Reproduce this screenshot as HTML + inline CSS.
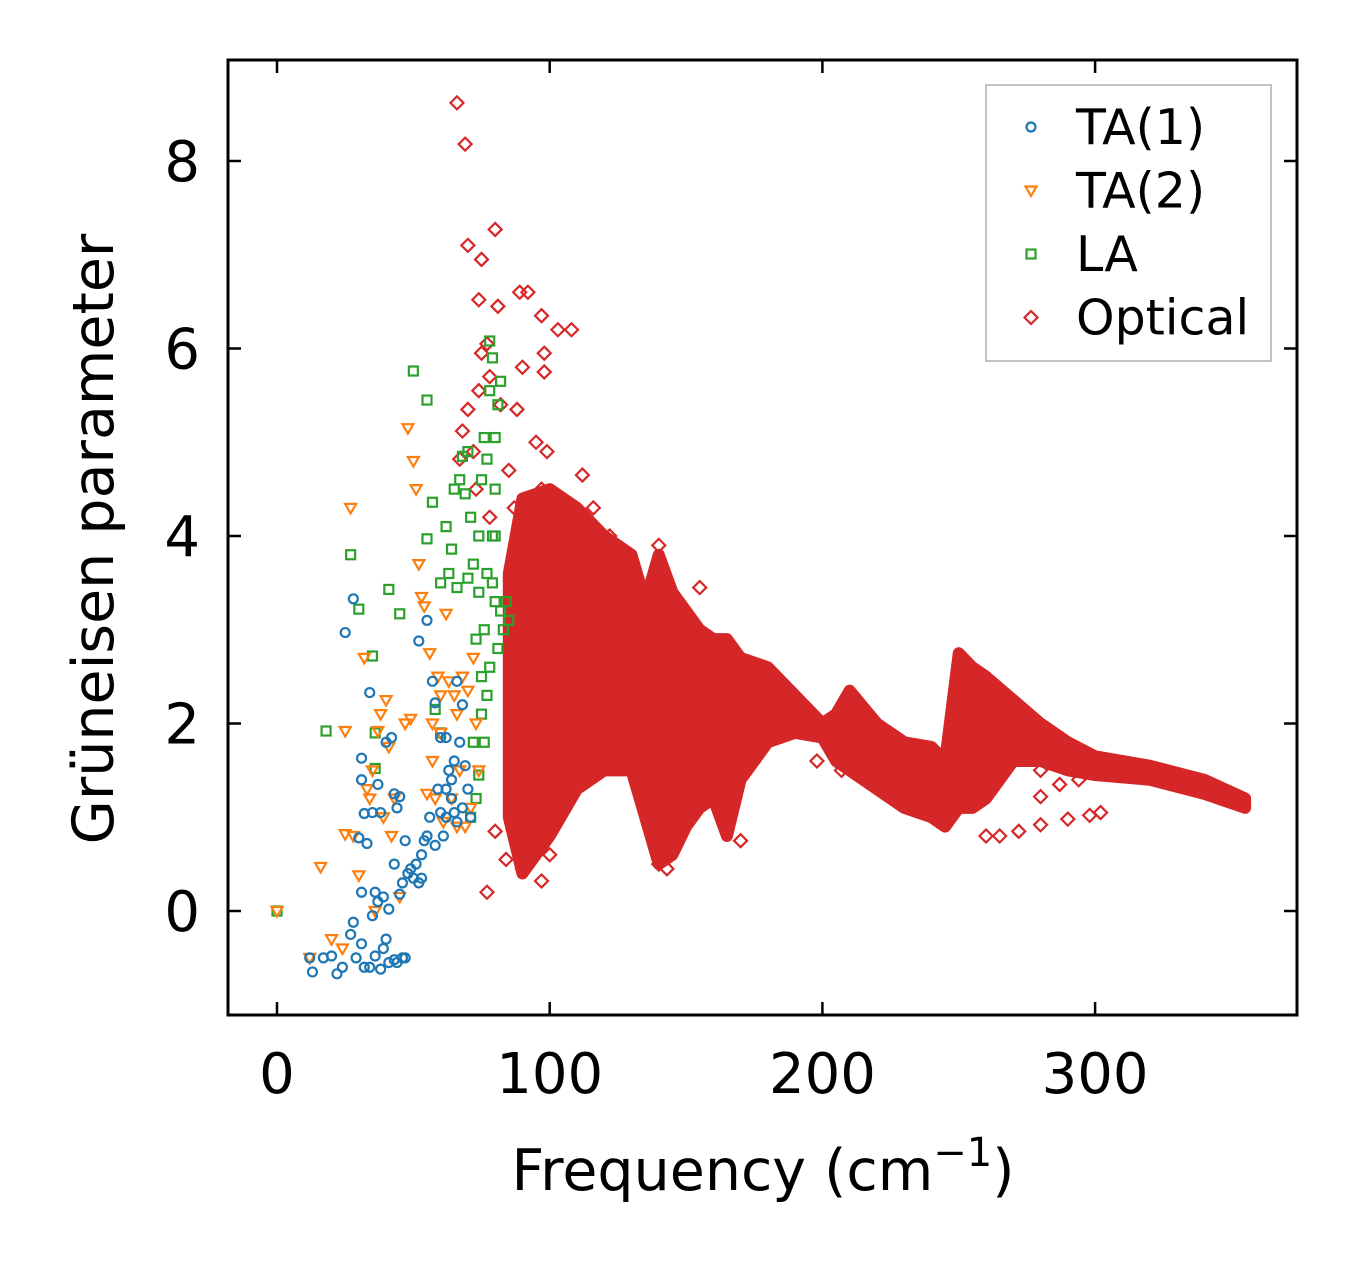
<!DOCTYPE html>
<html><head><meta charset="utf-8"><style>
html,body{margin:0;padding:0;background:#fff;}
svg{display:block;font-family:"DejaVu Sans","Liberation Sans",sans-serif;}
</style></head><body>
<svg id="chart" width="1357" height="1264" viewBox="0 0 1357 1264">
<defs><clipPath id="clip"><rect x="228" y="60" width="1069" height="955"/></clipPath></defs>
<g id="marks" clip-path="url(#clip)"></g>
<g id="axes"></g>
</svg>
<script>
const xTicks=[0,100,200,300];
const yTicks=[0,2,4,6,8];
const bandFreq=[85,90,100,110,120,130,135,140,145,150,155,160,165,170,180,190,200,205,210,220,230,240,245,250,255,260,270,280,290,300,320,340,355];
const bandLow=[1.0,0.4,0.8,1.3,1.5,1.5,1.0,0.5,0.6,0.9,1.1,1.2,0.8,1.4,1.8,1.9,1.85,1.6,1.5,1.3,1.1,1.0,0.9,1.1,1.1,1.2,1.6,1.6,1.5,1.45,1.4,1.25,1.1];
const bandHigh=[3.6,4.4,4.5,4.3,4.0,3.8,3.3,3.8,3.4,3.2,3.0,2.9,2.9,2.7,2.6,2.3,2.0,2.1,2.35,2.0,1.8,1.75,1.6,2.75,2.6,2.5,2.25,2.0,1.8,1.65,1.55,1.4,1.2];
const opticalX=[66,69,70,80,75,74,81,89,92,97,103,108,77,75,78,98,90,98,74,82,88,70,68,72,95,99,112,67,85,73,97,78,87,84,77,97,100,90,80,140,143,170,198,207,260,265,272,280,290,298,302,280,287,294,280,262,155,140,116,122];
const opticalY=[8.62,8.18,7.1,7.27,6.95,6.52,6.45,6.6,6.6,6.35,6.2,6.2,6.05,5.95,5.7,5.95,5.8,5.75,5.55,5.4,5.35,5.35,5.12,4.9,5.0,4.9,4.65,4.82,4.7,4.5,4.5,4.2,4.3,0.55,0.2,0.32,0.6,0.45,0.85,0.5,0.45,0.75,1.6,1.5,0.8,0.8,0.85,0.92,0.98,1.02,1.05,1.22,1.35,1.4,1.5,1.48,3.45,3.9,4.3,4.0];
const ta1X=[12,13,17,20,22,24,27,28,29,31,32,34,35,36,38,39,40,41,43,44,46,47,25,28,34,31,31,32,33,30,31,35,37,38,40,42,43,44,45,39,36,37,41,43,45,46,47,48,50,52,53,54,55,56,57,58,59,60,60,61,62,63,64,65,66,67,68,69,70,71,52,55,58,62,65,66,68,64,62,49,51,53];
const ta1Y=[-0.5,-0.65,-0.5,-0.48,-0.67,-0.6,-0.25,-0.12,-0.5,-0.35,-0.6,-0.6,-0.05,-0.48,-0.62,-0.4,-0.3,-0.55,-0.52,-0.55,-0.5,-0.5,2.97,3.33,2.33,1.63,1.4,1.04,0.72,0.78,0.2,1.05,1.35,1.05,1.8,1.85,1.25,1.1,1.22,0.15,0.2,0.1,0.02,0.5,0.18,0.3,0.75,0.4,0.35,0.3,0.6,0.75,0.8,1.0,2.45,2.22,1.3,1.05,1.85,0.8,1.0,1.5,1.2,1.05,2.45,1.8,2.2,1.55,1.3,1.0,2.88,3.1,0.7,1.85,1.6,0.95,1.1,1.4,1.3,0.45,0.5,0.35];
const ta2X=[0,12,16,20,24,25,25,27,28,30,32,33,34,35,36,37,38,39,40,41,42,43,45,47,48,49,50,51,53,54,55,56,57,58,60,62,63,64,65,66,67,68,69,70,71,72,73,74,61,66,57,59,52,60];
const ta2Y=[0,-0.5,0.47,-0.3,-0.4,0.82,1.92,4.3,0.8,0.38,2.7,1.3,1.2,1.5,0.0,1.92,2.1,1.0,2.25,1.75,0.8,1.2,0.15,2.0,5.15,2.05,4.8,4.5,3.35,3.25,1.25,2.75,1.6,1.2,1.9,3.17,2.45,1.2,2.3,2.1,1.5,2.5,0.9,2.35,1.1,2.7,2.0,1.5,0.95,0.9,2.0,2.5,3.7,2.3];
const laX=[0,18,27,30,35,36,36,41,45,50,55,55,57,58,60,60,62,63,64,65,66,67,68,69,70,70,71,72,73,74,75,75,76,76,77,77,78,78,79,79,80,80,81,81,82,82,83,84,85,72,74,76,73,75,78,80,77,71,74,79,80];
const laY=[0,1.92,3.8,3.22,2.72,1.9,1.52,3.43,3.17,5.76,5.45,3.97,4.36,2.15,1.9,3.5,4.1,3.6,3.86,4.5,3.45,4.6,4.85,4.45,3.55,4.9,4.2,3.7,2.9,3.4,2.5,4.6,5.05,3.0,4.82,2.3,5.55,6.08,5.9,3.5,4.5,5.05,5.4,2.8,5.65,3.2,3.0,3.3,3.1,1.8,1.45,1.8,1.2,2.1,2.6,3.3,3.6,1.0,4.0,4.0,4.0];

const NS='http://www.w3.org/2000/svg';
const X0=228,X1=1297,Y0=60,Y1=1015;
const sx=v=>277+v*2.727;
const sy=v=>911-v*93.75;
const marks=document.getElementById('marks');
const axes=document.getElementById('axes');
function mk(tag,attrs,parent){const e=document.createElementNS(NS,tag);for(const k in attrs)e.setAttribute(k,attrs[k]);parent.appendChild(e);return e;}
const C={b:'#1f77b4',o:'#ff7f0e',g:'#2ca02c',r:'#d62728'};
function marker(kind,cx,cy,parent,color){
  let e;
  if(kind==='circle'){e=mk('circle',{cx:cx,cy:cy,r:4.5,fill:'none',stroke:color,'stroke-width':2.2},parent);}
  else if(kind==='tri'){e=mk('polygon',{points:`${cx-5.5},${cy-4} ${cx+5.5},${cy-4} ${cx},${cy+5.5}`,fill:'none',stroke:color,'stroke-width':2.2},parent);}
  else if(kind==='sq'){e=mk('rect',{x:cx-4.5,y:cy-4.5,width:9,height:9,fill:'none',stroke:color,'stroke-width':2.2},parent);}
  else {e=mk('polygon',{points:`${cx},${cy-6.5} ${cx+6.5},${cy} ${cx},${cy+6.5} ${cx-6.5},${cy}`,fill:'none',stroke:color,'stroke-width':2.2},parent);}
  return e;
}
let pts=[];
for(let i=0;i<bandFreq.length;i++)pts.push(sx(bandFreq[i])+','+sy(bandHigh[i]));
for(let i=bandFreq.length-1;i>=0;i--)pts.push(sx(bandFreq[i])+','+sy(bandLow[i]));
const band=mk('polygon',{points:pts.join(' '),fill:C.r,stroke:C.r,'stroke-width':12,'stroke-linejoin':'round'},marks);


function series(xs,ys,kind,color,name){
  const g=mk('g',{},marks);
  
  
  for(let i=0;i<xs.length;i++){
    const e=marker(kind,sx(xs[i]),sy(ys[i]),g,color);
    
    
  }
}
series(opticalX,opticalY,'dia',C.r,'optical');
series(laX,laY,'sq',C.g,'la');
series(ta2X,ta2Y,'tri',C.o,'ta2');
series(ta1X,ta1Y,'circle',C.b,'ta1');

const fr=mk('rect',{x:X0,y:Y0,width:X1-X0,height:Y1-Y0,fill:'none',stroke:'#000','stroke-width':3},axes);


xTicks.forEach(t=>{
  const x=sx(t);
  mk('line',{x1:x,y1:Y1,x2:x,y2:Y1-13,stroke:'#000','stroke-width':2.5},axes);
  mk('line',{x1:x,y1:Y0,x2:x,y2:Y0+13,stroke:'#000','stroke-width':2.5},axes);
  const tx=mk('text',{x:x,y:1093,'font-size':56,'text-anchor':'middle'},axes);
  tx.textContent=t;
  
  
});
yTicks.forEach(t=>{
  const y=sy(t);
  mk('line',{x1:X0,y1:y,x2:X0+13,y2:y,stroke:'#000','stroke-width':2.5},axes);
  mk('line',{x1:X1,y1:y,x2:X1-13,y2:y,stroke:'#000','stroke-width':2.5},axes);
  const tx=mk('text',{x:200,y:y+20,'font-size':56,'text-anchor':'end'},axes);
  tx.textContent=t;
  
  
});
const xt=mk('text',{x:763,y:1190,'font-size':57,'text-anchor':'middle'},axes);
xt.innerHTML='Frequency (cm<tspan dy="-24" font-size="40">−1</tspan><tspan dy="24">)</tspan>';


const yt=mk('text',{x:0,y:0,'font-size':57,'text-anchor':'middle',transform:'translate(113,539) rotate(-90)'},axes);
yt.textContent='Grüneisen parameter';



const lg=mk('g',{},axes);


mk('rect',{x:986,y:85,width:285,height:276,fill:'#fff',stroke:'#b0b0b0','stroke-width':1.5},lg);
const entries=[['TA(1)','circle',C.b],['TA(2)','tri',C.o],['LA','sq',C.g],['Optical','dia',C.r]];
entries.forEach((en,i)=>{
  const y=127+i*63.5;
  const g=mk('g',{},lg);
  
  
  marker(en[1],1031,y,g,en[2]);
  const t=mk('text',{x:1076,y:y+17,'font-size':49},g);
  t.textContent=en[0];
});
</script>
</body></html>
